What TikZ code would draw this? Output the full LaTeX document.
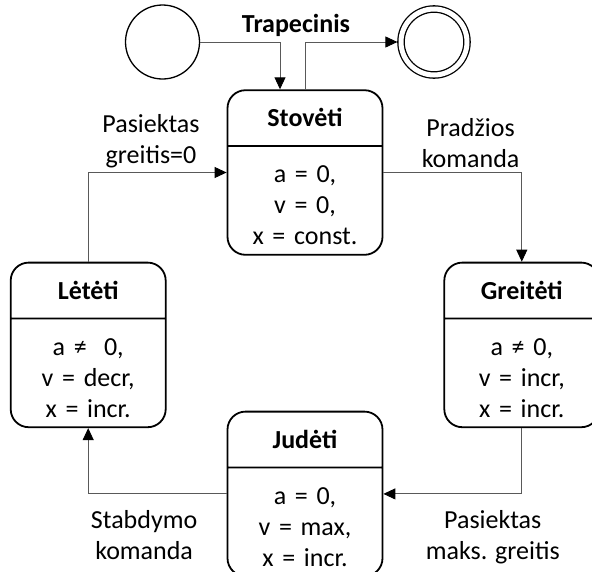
\documentclass[tikz,border=0pt]{standalone}
\usepackage{fontspec}
\setmainfont{Carlito}
\usetikzlibrary{arrows.meta,automata,positioning,shapes.multipart}

% title and body of a state box
\newcommand{\bvpav}[1]{\rule[-18.5pt]{0pt}{54pt}\textbf{#1}}
\newcommand{\bvturinys}[3]{\rule{0pt}{36pt}#1\\#2\\#3\rule[-9pt]{0pt}{9pt}}

\begin{document}
\begin{tikzpicture}[x=1pt,y=-1pt,>={Triangle[length=12pt,width=11pt,color=black]},
    every edge/.style={draw=black!65,line width=0.9pt,->},
    font=\fontsize{26pt}{31pt}\selectfont]
  \tikzstyle{every state}=[draw,circle,line width=1.3pt,minimum size=74pt]
  \tikzstyle{busena}=[rectangle split,rectangle split parts=2,draw,line width=1.8pt,
    rounded corners=18pt,inner xsep=5pt,inner ysep=0pt,text width=145pt,align=center]
  \tikzstyle{zyme}=[align=center,inner sep=4pt]
  \tikzstyle{hv}=[to path={-| (\tikztotarget) \tikztonodes}]
  \tikzstyle{vh}=[to path={|- (\tikztotarget) \tikztonodes}]

  \useasboundingbox (0,0) rectangle (592,571);

  \node[state]                          (init)  at (162.5,42) {};
  \node[state,double,double distance=5pt,minimum size=66pt,outer sep=3.6pt]
                                        (final) at (434,42)   {};
  \node[font=\fontsize{26pt}{31pt}\selectfont\bfseries] (pavadinimas) at (296,25) {Trapecinis};

  \node[busena] (stoveti) at (305,172.5)
    {\bvpav{Stovėti}\nodepart{two}\bvturinys{a = 0,}{v = 0,}{x = const.}};
  \node[busena] (greiteti) [below right=6pt and 60pt of stoveti]
    {\bvpav{Greitėti}\nodepart{two}\bvturinys{a ≠ 0,}{v = incr,}{x = incr.}};
  \node[busena] (leteti) [below left=6pt and 60pt of stoveti]
    {\bvpav{Lėtėti}\nodepart{two}\bvturinys{a ≠~ 0,}{v = decr,}{x = incr.}};
  \node[busena] (judeti) [below=155pt of stoveti]
    {\bvpav{Judėti}\nodepart{two}\bvturinys{a = 0,}{v = max,}{x = incr.}};

  \path (init)     edge[hv]                       ([xshift=-25pt]stoveti.north)
        (stoveti)  edge[vh]                       (final)
        (stoveti)  edge[hv] node[zyme,above,pos=0.315] {Pradžios\\komanda} (greiteti)
        (greiteti) edge[vh] node[zyme,below,pos=0.605,yshift=-12pt] {Pasiektas\\maks. greitis} (judeti)
        (judeti)   edge[hv] node[zyme,below,pos=0.298,yshift=-12pt] {Stabdymo\\komanda} (leteti)
        (leteti)   edge[vh] node[zyme,above,pos=0.727] {Pasiektas\\greitis=0} (stoveti);
\end{tikzpicture}
\end{document}
